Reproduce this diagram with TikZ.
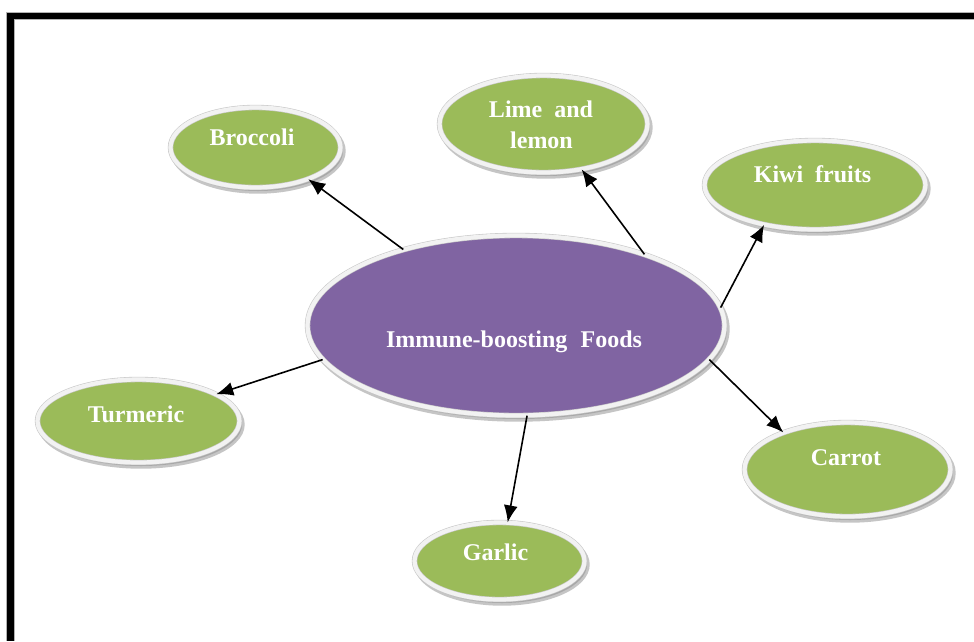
\documentclass[tikz,border=0pt]{standalone}
\usepackage{fontspec}
\setmainfont{Liberation Serif}
\usetikzlibrary{shapes.geometric,arrows.meta,shadows}
\definecolor{leaf}{HTML}{9BBB59}
\definecolor{plum}{HTML}{8064A2}
\definecolor{rim}{HTML}{F2F2F2}
\definecolor{rimedge}{HTML}{C9C9C9}
\tikzset{
  bubble/.style={ellipse, inner sep=0pt, draw=rimedge, line width=0.6pt,
    double=rim, double distance=4.2pt,
    drop shadow={shadow xshift=2.5pt, shadow yshift=-3.5pt, fill=black!45,
      draw=black!45, line width=5.4pt, opacity=0.5}},
  leafbubble/.style={bubble, fill=leaf},
  plumbubble/.style={bubble, fill=plum},
  lbl/.style={anchor=base, text=white, font=\bfseries\fontsize{24}{31}\selectfont, inner sep=0pt, align=center},
  arr/.style={draw=black, line width=1.6pt, -{Latex[length=17pt,width=14pt]}}
}
\begin{document}
\begin{tikzpicture}[x=1pt,y=-1pt]
\path[use as bounding box, fill=white] (0,0) rectangle (974,641);
% frame
\fill[black] (6,12) rectangle (974,19.5);
\fill[black] (6,12) rectangle (14,641);
\draw[gray!60, line width=0.5pt] (974,11.8) -- (5.8,11.8) -- (5.8,641);
\draw[gray!60, line width=0.5pt] (974,19.7) -- (14.2,19.7) -- (14.2,641);
% nodes
\node[plumbubble, minimum width=417, minimum height=180] (hub) at (516,325.5) {};
\node[leafbubble, minimum width=170, minimum height=80] (broccoli) at (255.5,147.5) {};
\node[leafbubble, minimum width=208, minimum height=97] (lime) at (543.5,124) {};
\node[leafbubble, minimum width=221, minimum height=89] (kiwi) at (815,185) {};
\node[leafbubble, minimum width=202, minimum height=83] (turmeric) at (138.5,421) {};
\node[leafbubble, minimum width=206, minimum height=94] (carrot) at (847.5,469.5) {};
\node[leafbubble, minimum width=170, minimum height=77] (garlic) at (499.5,561) {};
% labels
\node[lbl] (thub) at (514,347) {Immune-boosting\hspace{0.3em} Foods};
\node[lbl] (tbroccoli) at (252,145) {Broccoli};
\node[lbl] (tlime) at (541,117) {Lime\hspace{0.25em} and};
\node[lbl] (tlemon) at (541.5,148.5) {lemon};
\node[lbl] (tkiwi) at (812.5,182) {Kiwi\hspace{0.25em} fruits};
\node[lbl] (tturmeric) at (136,422) {Turmeric};
\node[lbl] (tcarrot) at (846,465) {Carrot};
\node[lbl] (tgarlic) at (495.5,560) {Garlic};
% connectors
\draw[arr] (hub.146.5) -- (broccoli.-31.8);
\draw[arr] (hub.29.3) -- (lime.-50.5);
\draw[arr] (hub.5.1) -- (kiwi.218);
\draw[arr] (hub.190.7) -- (turmeric.19.2);
\draw[arr] (hub.-10.9) -- (carrot.150.2);
\draw[arr] (hub.-83.4) -- (garlic.78.8);
\end{tikzpicture}
\end{document}
